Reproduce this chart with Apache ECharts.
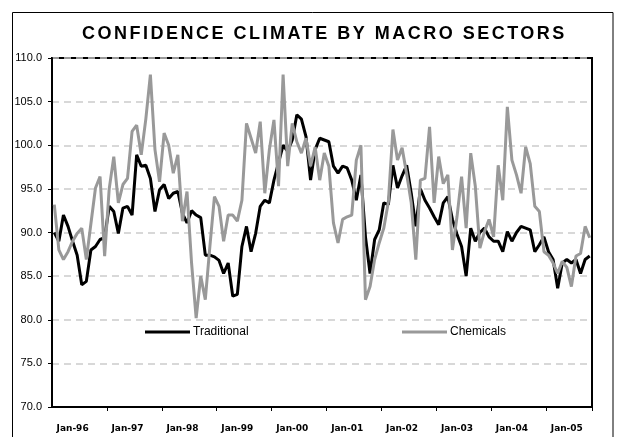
<!DOCTYPE html>
<html><head><meta charset="utf-8">
<script src="https://cdn.jsdelivr.net/npm/echarts@6/dist/echarts.min.js"></script>
<style>html,body{margin:0;padding:0;background:#fff}#c{width:621px;height:437px}</style>
</head><body><div id="c"></div>
<script>
const chartTitle = 'CONFIDENCE CLIMATE BY MACRO SECTORS';
const monthNames = ['Jan','Feb','Mar','Apr','May','Jun','Jul','Aug','Sep','Oct','Nov','Dec'];
const yearSuffixes = ['96','97','98','99','00','01','02','03','04','05'];
const monthCount = 118; // Jan-96 .. Oct-05
const seriesNames = ['Traditional', 'Chemicals'];
const yMin = 70, yMax = 110, yStep = 5;

const traditional = [
  90.0, 89.0, 92.0, 90.7, 89.0, 87.4, 84.0, 84.4, 88.0, 88.4, 89.2, 89.4,
  93.0, 92.4, 89.9, 92.8, 93.0, 92.0, 98.9, 97.6, 97.7, 96.2, 92.4, 94.9,
  95.5, 93.9, 94.5, 94.7, 92.2, 91.1, 92.5, 92.0, 91.7, 87.4, 87.4, 87.2,
  86.8, 85.3, 86.5, 82.7, 82.9, 88.4, 90.7, 87.8, 89.9, 93.0, 93.7, 93.4,
  96.0, 98.0, 100.0, 99.3, 100.6, 103.5, 103.0, 101.0, 96.0, 99.5, 100.8, 100.6,
  100.4, 97.6, 96.8, 97.6, 97.4, 96.0, 93.7, 96.6, 89.5, 85.3, 89.2, 90.3,
  93.4, 93.2, 97.7, 95.1, 96.5, 97.7, 94.5, 90.7, 95.0, 93.7, 92.8, 91.8,
  90.9, 93.4, 94.1, 91.5, 89.8, 88.4, 85.0, 90.5, 89.0, 90.0, 90.5, 89.5,
  89.0, 89.0, 87.8, 90.1, 89.0, 90.0, 90.7, 90.5, 90.3, 87.8, 88.6, 89.5,
  87.8, 86.9, 83.6, 86.5, 86.9, 86.5, 86.9, 85.3, 86.9, 87.3
];
const chemicals = [
  93.2, 88.0, 86.9, 87.8, 89.0, 89.9, 90.5, 86.9, 91.0, 95.1, 96.4, 87.3,
  95.0, 98.7, 93.4, 95.5, 96.2, 101.6, 102.3, 98.9, 103.0, 108.1, 99.5, 95.8,
  101.4, 100.0, 96.8, 98.9, 91.3, 94.7, 86.5, 80.2, 85.0, 82.3, 88.4, 94.1,
  93.0, 89.0, 92.0, 92.0, 91.3, 93.7, 102.5, 100.8, 99.1, 102.7, 94.5, 99.5,
  102.9, 95.3, 108.1, 97.6, 102.5, 100.4, 99.1, 100.8, 97.6, 99.8, 96.0, 99.1,
  97.6, 91.1, 88.8, 91.5, 91.8, 92.0, 98.3, 100.0, 82.3, 83.8, 86.9, 88.8,
  90.5, 93.5, 101.8, 98.3, 99.7, 96.7, 93.4, 86.9, 96.0, 96.2, 102.1, 93.4,
  98.7, 95.6, 96.6, 88.0, 91.8, 96.4, 90.5, 99.1, 95.3, 88.2, 90.1, 91.5,
  89.5, 97.7, 93.7, 104.4, 98.3, 96.6, 94.5, 99.8, 97.9, 93.0, 92.4, 87.8,
  87.4, 86.5, 85.3, 86.7, 86.0, 83.8, 87.3, 87.6, 90.7, 89.4
];

const categories = [];
yearSuffixes.forEach(y => monthNames.forEach(m => categories.push(m + '-' + y)));
categories.length = monthCount;

// letter-spaced title rendering (canvas letterSpacing)
(function () {
  const proto = CanvasRenderingContext2D.prototype;
  const orig = proto.fillText;
  proto.fillText = function (t, x, y, mw) {
    if (t === chartTitle && 'letterSpacing' in this) {
      const prev = this.letterSpacing;
      this.letterSpacing = '2.5px';
      const r = mw === undefined ? orig.call(this, t, x, y) : orig.call(this, t, x, y, mw);
      this.letterSpacing = prev;
      return r;
    }
    return orig.apply(this, arguments);
  };
})();

const chart = echarts.init(document.getElementById('c'), null, {renderer: 'canvas'});
const FONT = "'Liberation Sans', Arial, sans-serif";
chart.setOption({
  animation: false,
  backgroundColor: '#ffffff',
  title: {
    text: chartTitle, left: 82, top: 25, padding: 0,
    textStyle: {fontFamily: FONT, fontSize: 18, fontWeight: 'bold', color: '#000', lineHeight: 18}
  },
  graphic: [{
    type: 'rect', silent: true, z: -10,
    shape: {x: 12.5, y: 12.5, width: 600.5, height: 440},
    style: {fill: 'none', stroke: '#000', lineWidth: 1}
  }],
  legend: [
    {data: [{name: seriesNames[0], icon: 'rect'}], left: 145, top: 326, itemWidth: 45, itemHeight: 3, itemGap: 3,
     padding: 0, textStyle: {fontFamily: FONT, fontSize: 12, color: '#000', padding: [0, 0, 0, -2]}},
    {data: [{name: seriesNames[1], icon: 'rect'}], left: 402, top: 326, itemWidth: 45, itemHeight: 3, itemGap: 3,
     padding: 0, textStyle: {fontFamily: FONT, fontSize: 12, color: '#000', padding: [0, 0, 0, -2]}}
  ],
  grid: {
    left: 52, right: 29, top: 58, bottom: 30, containLabel: false, outerBoundsMode: 'none',
    show: true, borderColor: '#000', borderWidth: 2, backgroundColor: '#fff'
  },
  xAxis: {
    type: 'category', data: categories, boundaryGap: true,
    axisLine: {show: true, lineStyle: {color: '#000', width: 2}},
    axisTick: {show: true, length: 4, interval: (i) => i % 12 === 0 && i > 0, lineStyle: {color: '#000', width: 1}},
    axisLabel: {
      interval: (i) => i % 12 === 4,
      formatter: (v, i) => categories[i - 4],
      margin: 17, fontFamily: "'DejaVu Sans', sans-serif", fontSize: 9, fontWeight: 'bold', color: '#000'
    },
    splitLine: {show: false}
  },
  yAxis: {
    type: 'value', min: yMin, max: yMax, interval: yStep,
    axisLine: {show: true, lineStyle: {color: '#000', width: 2}},
    axisTick: {show: true, length: 4, lineStyle: {color: '#000'}},
    axisLabel: {formatter: v => v.toFixed(1), margin: 10, fontFamily: FONT, fontSize: 11, color: '#000'},
    splitLine: {show: true, lineStyle: {color: '#cccccc', width: 1.5, type: [7, 5]}}
  },
  series: [
    {name: seriesNames[0], type: 'line', data: traditional, showSymbol: false, symbol: 'none',
     lineStyle: {color: '#000000', width: 3}, itemStyle: {color: '#000000'}},
    {name: seriesNames[1], type: 'line', data: chemicals, showSymbol: false, symbol: 'none',
     lineStyle: {color: '#999999', width: 3}, itemStyle: {color: '#999999'}}
  ]
});
</script>
</body></html>
